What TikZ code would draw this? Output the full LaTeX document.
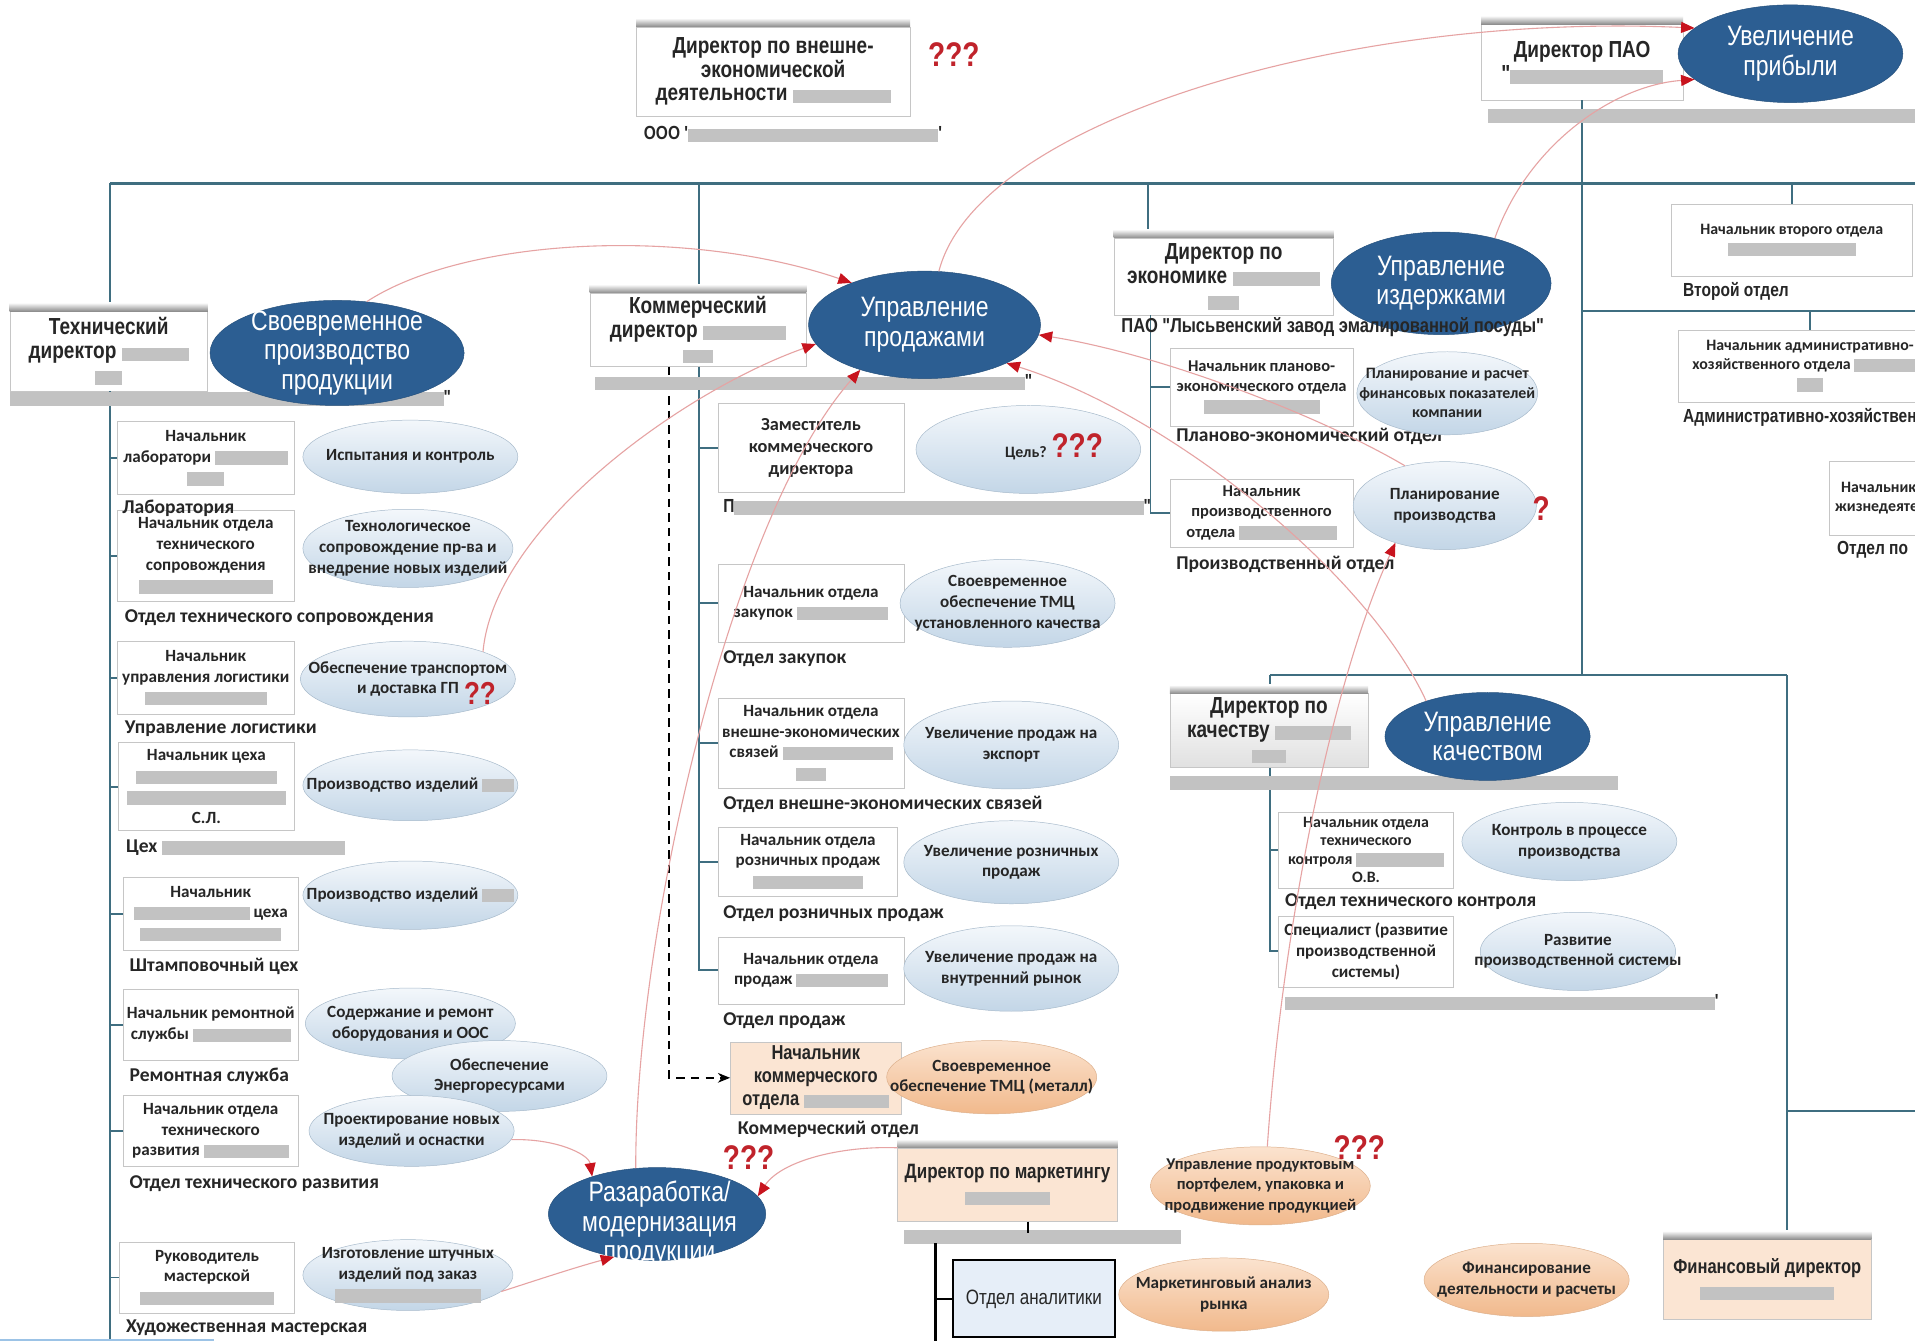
\documentclass[tikz,border=0pt]{standalone}
\usepackage{fontspec}
\setmainfont{Carlito}
\newfontfamily\nar{Liberation Sans}[FakeStretch=0.82]
\usetikzlibrary{shapes.geometric,arrows.meta}
\definecolor{busline}{HTML}{3F6E80}
\definecolor{boxedge}{HTML}{C6C6C6}
\definecolor{inktext}{HTML}{262626}
\definecolor{goalblue}{HTML}{2C5E92}
\definecolor{paleedge}{HTML}{A7BACB}
\definecolor{paletop}{HTML}{F3F7FB}
\definecolor{palebot}{HTML}{C3D6E7}
\definecolor{peachedge}{HTML}{DDB08C}
\definecolor{peachtop}{HTML}{FBE3CF}
\definecolor{peachbot}{HTML}{F1B98C}
\definecolor{peachbox}{HTML}{FBE5D3}
\definecolor{hidden}{HTML}{C2C2C2}
\definecolor{linkred}{HTML}{E6A3A3}
\definecolor{tipred}{HTML}{C8141E}
\definecolor{askred}{HTML}{C0232B}
\definecolor{anbox}{HTML}{E6EEF8}
\definecolor{scrollblue}{HTML}{9CC3E6}

% grey bar standing for a name that is hidden
\newcommand\blurbar[1]{{\color{hidden}\rule[-2pt]{#1}{11pt}}}
% soft shadow along the top edge of a director box
\newcommand\lidshade[1]{\shade[top color=white, bottom color=black!45] (#1.north west) rectangle ([yshift=7pt]#1.north east);}

\tikzset{
  dirbox/.style={rectangle, draw=boxedge, fill=white, inner sep=0pt, align=center, text=inktext,
    font=\nar\bfseries\fontsize{19}{19.5}\selectfont},
  subbox/.style={rectangle, draw=boxedge, fill=white, inner sep=0pt, align=center, text=inktext,
    font=\bfseries\fontsize{14}{17}\selectfont},
  goal/.style={ellipse, draw=goalblue!85!black, fill=goalblue, text=white, inner sep=-60pt, align=center,
    font=\nar\fontsize{23}{24}\selectfont},
  task/.style={ellipse, draw=paleedge, top color=paletop, bottom color=palebot, inner sep=-60pt,
    align=center, text=inktext, font=\bfseries\fontsize{14}{17}\selectfont},
  ptask/.style={task, draw=peachedge, top color=peachtop, bottom color=peachbot},
  dept/.style={anchor=west, inner sep=0pt, text=inktext, font=\bfseries\fontsize{16}{19}\selectfont},
  ndept/.style={dept, font=\nar\bfseries\fontsize{15.5}{18}\selectfont},
  ask/.style={inner sep=0pt, text=askred, font=\nar\bfseries\fontsize{28}{30}\selectfont},
  bus/.style={draw=busline, line width=1.6pt},
  mainbus/.style={draw=busline, line width=2.4pt},
  link/.style={draw=linkred, line width=0.9pt, -{Triangle[length=11pt,width=9pt,color=tipred]}},
}

\begin{document}
\begin{tikzpicture}[x=1pt,y=-1pt]
\useasboundingbox (0,0) rectangle (1568,1098);
\fill[white] (0,0) rectangle (1568,1098);
\clip (0,0) rectangle (1568,1098);

% ---------- bus coordinates ----------
\coordinate (lt) at (90,150);
\coordinate (rt) at (1568,150);
\coordinate (ct) at (572,150);
\coordinate (et) at (940,150);
\coordinate (lbot) at (90,1098);
\coordinate (ql) at (1040,553);
\coordinate (qr) at (1463,553);
\coordinate (r2) at (1568,255);
\coordinate (r3) at (1568,910);
\coordinate (mk) at (766,1018);
\coordinate (mkb) at (766,1098);
\coordinate (sb1) at (0,1097);
\coordinate (sb2) at (175,1097);

% ---------- boxes ----------
\node[dirbox, minimum width=224, minimum height=73] (fdd) at (633,58.5)
  {Директор по внешне-\\экономической\\деятельности \blurbar{80pt}};
\node[dirbox, minimum width=165, minimum height=62] (pdir) at (1295.5,51)
  {Директор ПАО\\"\blurbar{125pt}};
\node[dirbox, minimum width=162, minimum height=65] (tdir) at (89,287.5)
  {Технический\\директор \blurbar{55pt}\\\blurbar{22pt}};
\node[dirbox, minimum width=177, minimum height=60] (cdir) at (571.5,270)
  {Коммерческий\\директор \blurbar{68pt}\\\blurbar{25pt}};
\node[dirbox, minimum width=180, minimum height=63] (edir) at (1002,226.5)
  {Директор по\\экономике \blurbar{72pt}\\\blurbar{25pt}};
\node[dirbox, fill=peachbox, minimum width=180, minimum height=60, font=\nar\bfseries\fontsize{17}{20}\selectfont] (mdir) at (825,970)
  {Директор по маркетингу\\\blurbar{70pt}};
\node[dirbox, fill=peachbox, minimum width=170, minimum height=65, font=\nar\bfseries\fontsize{16.5}{19.5}\selectfont] (fdir) at (1447,1047.5)
  {Финансовый директор\\\blurbar{110pt}};

% ---------- org lines ----------
\draw[mainbus] (lt) -- (rt);
\draw[bus] (lt) -- (lt |- tdir.north);
\draw[bus] (tdir.south -| lt) -- (lbot);
\draw[bus] (ct) -- (ct |- cdir.north);
\draw[bus] (et) -- (et |- edir.north);
\draw[bus] (pdir.south) -- (pdir.south |- ql);
\draw[bus] (ql) -- (qr);
\draw[bus] (pdir.south |- r2) -- (r2);
\draw[bus] (qr |- r3) -- (r3);
\draw[bus] (qr) -- (qr |- fdir.north);

% ---------- technical director's units ----------
\node[subbox, minimum width=145, minimum height=60] (lab) at (168.5,375)
  {Начальник\\лаборатори \blurbar{60pt}\\\blurbar{30pt}};
\node[subbox, minimum width=145, minimum height=74] (tsup) at (168.5,455)
  {Начальник отдела\\технического\\сопровождения\\\blurbar{110pt}};
\node[subbox, minimum width=145, minimum height=60] (logi) at (168.5,555)
  {Начальник\\управления логистики\\\blurbar{100pt}};
\node[subbox, minimum width=144, minimum height=72] (shop) at (169,644)
  {Начальник цеха\\\blurbar{115pt}\\\blurbar{130pt}\\С.Л.};
\node[subbox, minimum width=143, minimum height=60] (stamp) at (172.5,748)
  {Начальник\\\blurbar{95pt} цеха\\\blurbar{115pt}};
\node[subbox, minimum width=143, minimum height=58] (repair) at (172.5,839)
  {Начальник ремонтной\\службы \blurbar{80pt}};
\node[subbox, minimum width=143, minimum height=58] (techdev) at (172.5,926)
  {Начальник отдела\\технического\\развития \blurbar{70pt}};
\node[subbox, minimum width=143, minimum height=58] (workshop) at (169.5,1046)
  {Руководитель\\мастерской\\\blurbar{110pt}};
\foreach \b in {lab,tsup,logi,shop,stamp,repair,techdev,workshop}
  \draw[bus] (lt |- \b.west) -- (\b.west);

\node[dept] (llab) at (100,416) {Лаборатория};
\node[dept] (ltsup) at (102,506) {Отдел технического сопровождения};
\node[dept] (llog) at (102,597) {Управление логистики};
\node[dept] (lshop) at (103,694) {Цех \blurbar{150pt}};
\node[dept] (lstamp) at (106,791) {Штамповочный цех};
\node[dept] (lrepair) at (106,881) {Ремонтная служба};
\node[dept] (ltechdev) at (106,969) {Отдел технического развития};
\node[dept] (lworkshop) at (103,1087) {Художественная мастерская};

\node[task, minimum width=176, minimum height=60] (elab) at (336,374) {Испытания и контроль};
\node[task, minimum width=172, minimum height=64] (etsup) at (334,449)
  {Технологическое\\сопровождение пр-ва и\\внедрение новых изделий};
\node[task, minimum width=176, minimum height=62] (elog) at (334,556)
  {Обеспечение транспортом\\и доставка ГП};
\node[task, minimum width=176, minimum height=58] (eshop) at (336,643) {Производство изделий \blurbar{26pt}};
\node[task, minimum width=176, minimum height=56] (estamp) at (336,733) {Производство изделий \blurbar{26pt}};
\node[task, minimum width=172, minimum height=58] (erepair) at (336,838) {Содержание и ремонт\\оборудования и ООС};
\node[task, minimum width=176, minimum height=58] (eenergy) at (409,881) {Обеспечение\\Энергоресурсами};
\node[task, minimum width=168, minimum height=58] (etechdev) at (337,926) {Проектирование новых\\изделий и оснастки};
\node[task, minimum width=172, minimum height=58] (eworkshop) at (334,1044)
  {Изготовление штучных\\изделий под заказ\\\blurbar{120pt}};

% ---------- commercial director's units ----------
\node[subbox, minimum width=152, minimum height=73, font=\bfseries\fontsize{15}{18}\selectfont] (deputy) at (664,366.5)
  {Заместитель\\коммерческого\\директора};
\node[subbox, minimum width=152, minimum height=64] (purch) at (664,494)
  {Начальник отдела\\закупок \blurbar{75pt}};
\node[subbox, minimum width=152, minimum height=73] (fea) at (664,608.5)
  {Начальник отдела\\внешне-экономических\\связей \blurbar{90pt}\\\blurbar{25pt}};
\node[subbox, minimum width=147, minimum height=57] (retail) at (661.5,705.5)
  {Начальник отдела\\розничных продаж\\\blurbar{90pt}};
\node[subbox, minimum width=152, minimum height=55] (salesb) at (664,794.5)
  {Начальник отдела\\продаж \blurbar{75pt}};
\node[subbox, fill=peachbox, minimum width=140, minimum height=59, font=\nar\bfseries\fontsize{16.5}{19}\selectfont] (comm) at (668,882.5)
  {Начальник\\коммерческого\\отдела \blurbar{70pt}};
\draw[bus] (cdir.south -| ct) |- (salesb.west);
\foreach \b in {deputy,purch,fea,retail}
  \draw[bus] (ct |- \b.west) -- (\b.west);
\draw[black, dash pattern=on 7pt off 5pt, line width=1.3pt, -{Stealth[length=10pt,width=8pt]}] ([xshift=-23.5pt]cdir.south) |- (comm.west);

\node[ndept] (lcdir) at (487,313) {\blurbar{352pt}"};
\node[ndept] (ldeputy) at (592,415) {П\blurbar{335pt}"};
\node[dept] (lpurch) at (592,539) {Отдел закупок};
\node[dept] (lfea) at (592,659) {Отдел внешне-экономических связей};
\node[dept] (lretail) at (592,748) {Отдел розничных продаж};
\node[dept] (lsales) at (592,836) {Отдел продаж};
\node[dept] (lcomm) at (604,925) {Коммерческий отдел};

\node[task, minimum width=184, minimum height=72] (edeputy) at (842,368) {};
\node[inner sep=0pt, text=inktext, font=\bfseries\fontsize{13}{15}\selectfont] (aim) at (863,366)
  {Цель? \textcolor{askred}{\nar\bfseries\fontsize{28}{30}\selectfont ???}};
\node[task, minimum width=176, minimum height=72] (epurch) at (825,494)
  {Своевременное\\обеспечение ТМЦ\\установленного качества};
\node[task, minimum width=176, minimum height=72] (efea) at (828,610) {Увеличение продаж на\\экспорт};
\node[task, minimum width=176, minimum height=68] (eretail) at (828,706) {Увеличение розничных\\продаж};
\node[task, minimum width=176, minimum height=70] (esalesd) at (828,793) {Увеличение продаж на\\внутренний рынок};
\node[ptask, minimum width=172, minimum height=60] (ecomm) at (812,882) {Своевременное\\обеспечение ТМЦ (металл)};

% ---------- economics director's units ----------
\coordinate (et2) at (942,258);
\node[subbox, minimum width=150, minimum height=64, font=\bfseries\fontsize{13.5}{16.5}\selectfont] (plan) at (1033,317)
  {Начальник планово-\\экономического отдела\\\blurbar{95pt}};
\node[subbox, minimum width=150, minimum height=56, font=\bfseries\fontsize{13.5}{16.5}\selectfont] (prodp) at (1033,420)
  {Начальник\\производственного\\отдела \blurbar{80pt}};
\draw[bus] (et2) |- (prodp.west);
\draw[bus] (et2 |- plan.west) -- (plan.west);
\node[dept] (lplan) at (963,357) {Планово-экономический отдел};
\node[dept] (lprodp) at (963,462) {Производственный отдел};
\node[task, minimum width=148, minimum height=68, font=\bfseries\fontsize{13}{16}\selectfont] (eplan) at (1185,322)
  {Планирование и расчет\\финансовых показателей\\компании};
\node[task, minimum width=150, minimum height=72] (eprodplan) at (1183,414) {Планирование\\производства};

% ---------- quality director's units ----------
\node[subbox, minimum width=143, minimum height=62, font=\bfseries\fontsize{13}{15}\selectfont] (otk) at (1118.5,696)
  {Начальник отдела\\технического\\контроля \blurbar{72pt}\\О.В.};
\node[subbox, minimum width=143, minimum height=58] (spec) at (1118.5,779)
  {Специалист (развитие\\производственной\\системы)};
\draw[bus] (ql) |- (spec.west);
\draw[bus] (ql |- otk.west) -- (otk.west);
\node[dirbox, minimum width=162, minimum height=60, top color=white, bottom color=black!12] (qdir) at (1039,598)
  {Директор по\\качеству \blurbar{62pt}\\\blurbar{28pt}};
\node[ndept] (lqdir) at (958,641) {\blurbar{367pt}};
\node[dept] (lotk) at (1052,738) {Отдел технического контроля};
\node[ndept] (lspec) at (1052,821) {\blurbar{352pt}'};
\node[task, minimum width=176, minimum height=64] (eotk) at (1285,689) {Контроль в процессе\\производства};
\node[task, minimum width=160, minimum height=64] (espec) at (1292,779) {Развитие\\производственной системы};

% ---------- right-hand units ----------
\node[subbox, minimum width=198, minimum height=59, font=\bfseries\fontsize{13}{16}\selectfont] (sec) at (1467,196.5)
  {Начальник второго отдела\\\blurbar{105pt}};
\draw[bus] (sec.north |- lt) -- (sec.north);
\node[subbox, minimum width=216, minimum height=59, font=\bfseries\fontsize{13}{16}\selectfont] (adm) at (1482,299.5)
  {Начальник административно-\\хозяйственного отдела \blurbar{60pt}\\\blurbar{22pt}};
\draw[bus] (adm.north |- r2) -- (adm.north);
\node[subbox, minimum width=122, minimum height=60, font=\bfseries\fontsize{13}{16}\selectfont] (life) at (1559,408)
  {Начальник отдела\\жизнедеятельности};
\node[ndept] (lsec) at (1378,239) {Второй отдел};
\node[ndept] (ladm) at (1378,342) {Административно-хозяйственный отдел};
\node[ndept] (llife) at (1504,450) {Отдел по};

% ---------- marketing ----------
\node[ndept] (lmdir) at (740,1013) {\blurbar{227pt}};
\draw[black, line width=1.4pt] ([xshift=17pt]mdir.south) -- ++(0,9);
\draw[black, line width=2pt] (mk) -- (mkb);
\node[rectangle, draw=black, line width=1.6pt, fill=anbox, minimum width=133, minimum height=63, inner sep=0pt,
  text=inktext, font=\nar\fontsize{17}{20}\selectfont] (anal) at (846.5,1063.5) {Отдел аналитики};
\draw[black, line width=1.6pt] (mk |- anal.west) -- (anal.west);
\node[ptask, minimum width=180, minimum height=64, font=\bfseries\fontsize{13.5}{16.5}\selectfont] (eprodport) at (1032,971)
  {Управление продуктовым\\портфелем, упаковка и\\продвижение продукцией};
\node[ptask, minimum width=172, minimum height=60] (eanal) at (1002,1060) {Маркетинговый анализ\\рынка};
\node[ptask, minimum width=168, minimum height=60] (efin) at (1250,1048) {Финансирование\\деятельности и расчеты};

% ---------- top labels ----------
\node[ndept] (lfdd) at (527,110) {ООО '\blurbar{205pt}'};
\node[ndept] (lpdir) at (1218,95) {\blurbar{360pt}};
\node[ndept] (ltdir) at (8,326) {\blurbar{355pt}"};

% ---------- goals ----------
\node[goal, minimum width=184, minimum height=80] (eprofit) at (1466,44) {Увеличение\\прибыли};
\node[goal, minimum width=208, minimum height=86] (eprod) at (276,289) {Своевременное\\производство\\продукции};
\node[goal, minimum width=190, minimum height=88] (esales) at (757,266) {Управление\\продажами};
\node[goal, minimum width=180, minimum height=84] (ecost) at (1180,232) {Управление\\издержками};
\node[goal, minimum width=168, minimum height=72] (equal) at (1218,603) {Управление\\качеством};
\node[goal, minimum width=178, minimum height=76] (edev) at (538,994) {};
\node[inner sep=0pt, align=center, text=white, font=\nar\fontsize{23}{24}\selectfont] (edevtext) at (540,1002)
  {Разаработка/\\модернизация\\продукции};
\node[ndept, font=\nar\bfseries\fontsize{16.5}{19}\selectfont] (lecon) at (918,268) {ПАО "Лысьвенский завод эмалированной посуды"};

% ---------- shadows on director boxes ----------
\lidshade{fdd}
\lidshade{pdir}
\lidshade{tdir}
\lidshade{cdir}
\lidshade{edir}
\lidshade{qdir}
\lidshade{mdir}
\lidshade{fdir}

% ---------- goal links ----------
\draw[link] (eprod.60) .. controls (380,195) and (560,185) .. (esales.150);
\draw[link] (esales.75) .. controls (800,100) and (1100,10) .. (eprofit.165);
\draw[link] (ecost.40) .. controls (1250,120) and (1320,70) .. (eprofit.195);
\draw[link] (elog.20) .. controls (405,430) and (560,320) .. (esales.190);
\draw[link] (edev.115) .. controls (520,760) and (600,420) .. (esales.215);
\draw[link] (etechdev.-5) .. controls (455,932) and (482,945) .. (edev.150);
\draw[link] (eworkshop.-10) .. controls (440,1048) and (470,1038) .. (edev.225);
\draw[link] (mdir.north west) .. controls (690,938) and (640,950) .. (edev.10);
\draw[link] (eprodplan.135) .. controls (1080,340) and (950,290) .. (esales.-5);
\draw[link] (equal.150) .. controls (1120,470) and (960,340) .. (esales.-25);
\draw[link] (eprodport.80) .. controls (1050,760) and (1090,560) .. (eprodplan.217);

% ---------- open questions ----------
\node[ask] (q1) at (781,45) {???};
\node[ask] (q2) at (613,948) {???};
\node[ask] (q3) at (1113,940) {???};
\node[ask, font=\nar\bfseries\fontsize{26}{28}\selectfont] (q4) at (393,568) {??};
\node[ask] (q5) at (1262,416) {?};

\draw[scrollblue, line width=1.5pt] (sb1) -- (sb2);
\end{tikzpicture}
\end{document}
